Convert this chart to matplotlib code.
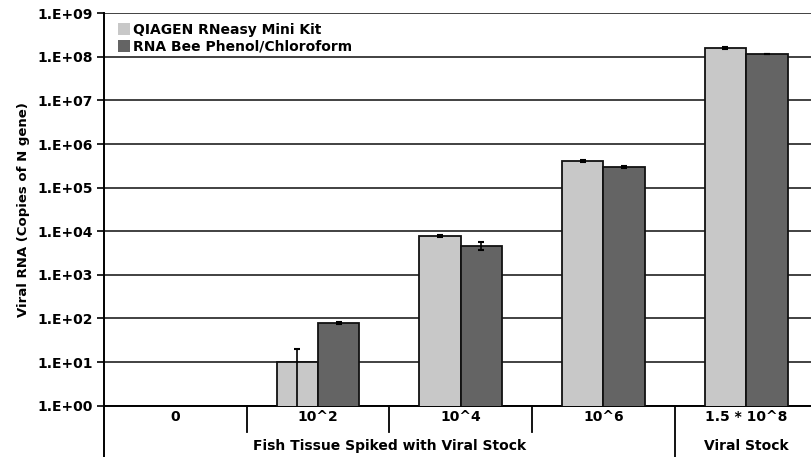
import matplotlib.pyplot as plt
import matplotlib.transforms as mtransforms
import numpy as np
from matplotlib.patches import Patch

# group labels along the x axis
doses = ["0", "10^2", "10^4", "10^6", "1.5 * 10^8"]
super_groups = ["Fish Tissue Spiked with Viral Stock", "Viral Stock"]

# viral RNA copies per extraction method (NaN = nothing detected)
qiagen = [np.nan, 10, 7800, 4.1e5, 1.6e8]
qiagen_err_lo = [0, 9.99, 500, 15000, 5e6]
qiagen_err_hi = [0, 10, 500, 15000, 5e6]
rnabee = [np.nan, 78, 4650, 2.97e5, 1.17e8]
rnabee_err = [0, 3, 900, 15000, 2e6]

LIGHT = "#c8c8c8"
DARK = "#646464"

plt.rcParams["font.family"] = "DejaVu Sans"
plt.rcParams["font.weight"] = "bold"

fig = plt.figure(figsize=(8.11, 4.57), dpi=100)
ax = fig.add_axes([0.1282, 0.1123, 0.8798, 0.8586])

x = np.arange(len(doses))
w = 0.29
err_kw = dict(ecolor="black", elinewidth=1.2, capsize=2.5, capthick=1.5)
ax.bar(x - w / 2, qiagen, w, color=LIGHT, edgecolor="#111111", linewidth=1.3,
       yerr=[qiagen_err_lo, qiagen_err_hi], error_kw=err_kw, zorder=3)
ax.bar(x + w / 2, rnabee, w, color=DARK, edgecolor="#111111", linewidth=1.3,
       yerr=rnabee_err, error_kw=err_kw, zorder=3)

ax.set_yscale("log")
ax.set_ylim(1, 1e9)
ax.set_xlim(-0.5, len(doses) - 0.5)
decades = [10.0 ** k for k in range(10)]
ax.set_yticks(decades)
ax.set_yticklabels([f"1.E+{k:02d}" for k in range(10)], fontsize=10, fontweight="bold")
ax.minorticks_off()
ax.tick_params(axis="y", length=5, width=1.2, pad=3)
ax.set_xticks([])
ax.grid(axis="y", color="#333333", linewidth=1.3, zorder=0)

for side in ("top", "right"):
    ax.spines[side].set_visible(False)
ax.spines["left"].set_linewidth(1.4)
ax.spines["bottom"].set_linewidth(1.4)

ax.set_ylabel("Viral RNA (Copies of N gene)", fontsize=9.5, fontweight="bold", labelpad=5)

# two-level category axis drawn below the plot
trans = mtransforms.blended_transform_factory(ax.transData, ax.transAxes)
for i, lab in enumerate(doses):
    ax.text(i, -0.03, lab, transform=trans, ha="center", va="center",
            fontsize=10, fontweight="bold")
for b in np.arange(0.5, len(doses) - 1, 1.0):
    low = -0.135 if b == 3.5 else -0.067
    ax.plot([b, b], [0, low], transform=trans, color="black", lw=1.3, clip_on=False)
ax.plot([-0.5, -0.5], [0, -0.135], transform=trans, color="black", lw=1.4, clip_on=False)
ax.text(1.5, -0.103, super_groups[0], transform=trans, ha="center", va="center",
        fontsize=10, fontweight="bold")
ax.text(4.0, -0.103, super_groups[1], transform=trans, ha="center", va="center",
        fontsize=10, fontweight="bold")

handles = [Patch(facecolor=LIGHT, edgecolor="none"), Patch(facecolor=DARK, edgecolor="none")]
ax.legend(handles, ["QIAGEN RNeasy Mini Kit", "RNA Bee Phenol/Chloroform"],
          loc="upper left", bbox_to_anchor=(0.006, 1.0), frameon=False,
          prop={"size": 10, "weight": "bold"}, handlelength=0.9, handleheight=0.9,
          handletextpad=0.2, labelspacing=0.2, borderaxespad=0.3)

fig.savefig("out.png", dpi=100)
